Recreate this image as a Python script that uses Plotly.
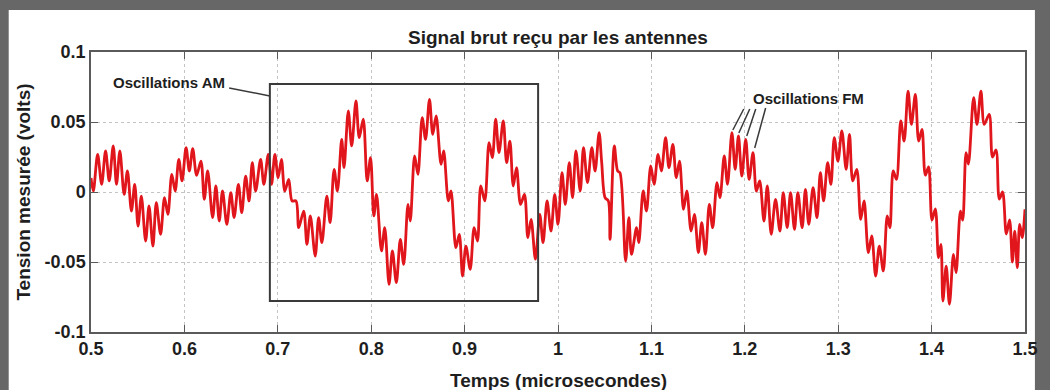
import plotly.graph_objects as go

# Raw antenna signal: time (µs) and measured voltage (V)
t_us = [
    0.5000, 0.5025, 0.5071, 0.5114, 0.5156, 0.5195, 0.5238, 0.5273, 0.5309, 0.5355,
    0.5390, 0.5433, 0.5468, 0.5504, 0.5539, 0.5585, 0.5621, 0.5663, 0.5699, 0.5745,
    0.5787, 0.5823, 0.5865, 0.5901, 0.5940, 0.5975, 0.6018, 0.6053, 0.6089, 0.6131,
    0.6177, 0.6213, 0.6249, 0.6302, 0.6337, 0.6373, 0.6408, 0.6454, 0.6497, 0.6532,
    0.6578, 0.6614, 0.6656, 0.6692, 0.6727, 0.6763, 0.6816, 0.6851, 0.6898, 0.6933,
    0.6969, 0.7004, 0.7039, 0.7075, 0.7117, 0.7153, 0.7195, 0.7224, 0.7277, 0.7312,
    0.7348, 0.7401, 0.7437, 0.7472, 0.7525, 0.7560, 0.7603, 0.7638, 0.7684, 0.7709,
    0.7755, 0.7791, 0.7837, 0.7872, 0.7915, 0.7957, 0.7993, 0.8028, 0.8057, 0.8110,
    0.8145, 0.8191, 0.8227, 0.8269, 0.8312, 0.8348, 0.8394, 0.8418, 0.8465, 0.8500,
    0.8546, 0.8582, 0.8624, 0.8659, 0.8695, 0.8748, 0.8776, 0.8826, 0.8854, 0.8907,
    0.8943, 0.8978, 0.9014, 0.9060, 0.9102, 0.9138, 0.9173, 0.9216, 0.9262, 0.9297,
    0.9333, 0.9368, 0.9414, 0.9450, 0.9485, 0.9521, 0.9556, 0.9599, 0.9641, 0.9677,
    0.9712, 0.9758, 0.9805, 0.9840, 0.9883, 0.9925, 0.9965, 1.0000, 1.0043, 1.0078,
    1.0121, 1.0156, 1.0192, 1.0238, 1.0273, 1.0316, 1.0362, 1.0397, 1.0440, 1.0468,
    1.0504, 1.0539, 1.0557, 1.0603, 1.0639, 1.0663, 1.0724, 1.0759, 1.0787, 1.0841,
    1.0865, 1.0912, 1.0947, 1.0993, 1.1029, 1.1071, 1.1107, 1.1152, 1.1188, 1.1230,
    1.1266, 1.1301, 1.1344, 1.1379, 1.1425, 1.1461, 1.1503, 1.1539, 1.1578, 1.1620,
    1.1656, 1.1702, 1.1734, 1.1780, 1.1815, 1.1862, 1.1897, 1.1932, 1.1968, 1.2010,
    1.2046, 1.2088, 1.2124, 1.2159, 1.2205, 1.2241, 1.2283, 1.2329, 1.2376, 1.2412,
    1.2454, 1.2490, 1.2532, 1.2568, 1.2614, 1.2649, 1.2685, 1.2731, 1.2773, 1.2809,
    1.2844, 1.2887, 1.2922, 1.2958, 1.2997, 1.3039, 1.3085, 1.3121, 1.3156, 1.3199,
    1.3241, 1.3277, 1.3323, 1.3359, 1.3401, 1.3440, 1.3483, 1.3525, 1.3554, 1.3589,
    1.3624, 1.3670, 1.3706, 1.3748, 1.3784, 1.3826, 1.3862, 1.3897, 1.3933, 1.3968,
    1.4004, 1.4040, 1.4074, 1.4100, 1.4121, 1.4156, 1.4191, 1.4234, 1.4262, 1.4309,
    1.4333, 1.4369, 1.4394, 1.4450, 1.4486, 1.4528, 1.4564, 1.4617, 1.4652, 1.4690,
    1.4725, 1.4760, 1.4800, 1.4835, 1.4865, 1.4890, 1.4918, 1.4943, 1.4970, 1.5000,
]
v_volts = [
    0.0100, 0.0007, 0.0269, 0.0055, 0.0293, 0.0079, 0.0329, 0.0055, 0.0293, -0.0017,
    0.0150, -0.0136, 0.0055, -0.0243, -0.0029, -0.0350, -0.0100, -0.0386, -0.0076, -0.0302,
    -0.0040, -0.0160, 0.0126, 0.0007, 0.0233, 0.0079, 0.0317, 0.0150, 0.0310, 0.0119,
    0.0221, -0.0052, 0.0150, -0.0183, 0.0043, -0.0207, 0.0007, -0.0231, -0.0005, -0.0183,
    0.0055, -0.0148, 0.0114, -0.0064, 0.0210, 0.0007, 0.0233, 0.0055, 0.0269, 0.0055,
    0.0269, 0.0102, 0.0233, 0.0007, 0.0090, -0.0064, -0.0064, -0.0255, -0.0136, -0.0374,
    -0.0171, -0.0457, -0.0183, -0.0362, -0.0029, -0.0219, 0.0162, 0.0007, 0.0376, 0.0174,
    0.0579, 0.0329, 0.0650, 0.0388, 0.0520, 0.0079, 0.0245, -0.0171, -0.0017, -0.0421,
    -0.0255, -0.0660, -0.0421, -0.0648, -0.0338, -0.0517, -0.0088, -0.0207, 0.0257, 0.0126,
    0.0531, 0.0376, 0.0662, 0.0412, 0.0543, 0.0198, 0.0293, -0.0064, 0.0007, -0.0398,
    -0.0302, -0.0600, -0.0386, -0.0552, -0.0255, -0.0350, 0.0043, -0.0064, 0.0352, 0.0245,
    0.0520, 0.0281, 0.0507, 0.0210, 0.0364, 0.0043, 0.0174, -0.0088, -0.0017, -0.0326,
    -0.0195, -0.0480, -0.0160, -0.0362, -0.0064, -0.0279, -0.0017, -0.0231, 0.0138, -0.0088,
    0.0210, -0.0040, 0.0293, 0.0007, 0.0317, 0.0067, 0.0317, 0.0150, 0.0424, 0.0210,
    -0.0040, -0.0064, -0.0338, 0.0329, 0.0150, 0.0138, -0.0493, -0.0183, -0.0445, -0.0255,
    -0.0362, 0.0007, -0.0136, 0.0186, 0.0055, 0.0269, 0.0150, 0.0388, 0.0174, 0.0340,
    0.0102, 0.0221, -0.0124, 0.0007, -0.0279, -0.0160, -0.0433, -0.0219, -0.0445, -0.0088,
    -0.0255, 0.0067, -0.0040, 0.0257, 0.0055, 0.0424, 0.0162, 0.0400, 0.0114, 0.0376,
    0.0090, 0.0281, 0.0007, 0.0079, -0.0207, 0.0043, -0.0302, -0.0052, -0.0279, -0.0005,
    -0.0255, -0.0005, -0.0267, -0.0005, -0.0255, 0.0019, -0.0231, 0.0031, -0.0183, 0.0138,
    -0.0064, 0.0210, 0.0055, 0.0388, 0.0221, 0.0436, 0.0162, 0.0412, 0.0079, 0.0162,
    -0.0195, -0.0064, -0.0433, -0.0314, -0.0600, -0.0386, -0.0564, -0.0171, -0.0255, 0.0150,
    0.0090, 0.0507, 0.0364, 0.0721, 0.0483, 0.0698, 0.0364, 0.0448, 0.0120, 0.0180,
    -0.0200, -0.0120, -0.0469, -0.0374, -0.0779, -0.0529, -0.0802, -0.0445, -0.0576, -0.0136,
    -0.0200, 0.0281, 0.0200, 0.0674, 0.0483, 0.0721, 0.0483, 0.0555, 0.0250, 0.0300,
    -0.0050, 0.0000, -0.0300, -0.0200, -0.0500, -0.0280, -0.0540, -0.0231, -0.0326, -0.0124,
]

x_tick_vals = [0.5, 0.6, 0.7, 0.8, 0.9, 1.0, 1.1, 1.2, 1.3, 1.4, 1.5]
x_tick_text = ["0.5", "0.6", "0.7", "0.8", "0.9", "1", "1.1", "1.2", "1.3", "1.4", "1.5"]
y_tick_vals = [-0.1, -0.05, 0, 0.05, 0.1]
y_tick_text = ["-0.1", "-0.05", "0", "0.05", "0.1"]

# Window highlighting the amplitude-modulated section
am_box = dict(t0=0.6915, t1=0.9787, v0=-0.0779, v1=0.0771)

FONT = "Liberation Sans, Arial, sans-serif"
INK = "#1e1e1e"
FRAME = "#3a3a3a"

fig = go.Figure()
fig.add_trace(go.Scatter(
    x=t_us, y=v_volts, mode="lines",
    line=dict(color="#e0161c", width=2.8, shape="spline", smoothing=0.9),
    hoverinfo="skip", showlegend=False,
))

W, H = 1050, 390
ML, MR, MT, MB = 91, 17, 52, 58
pw, ph = W - ML - MR, H - MT - MB


def px_to_paper(px, py):
    return (px - ML) / pw, (H - MB - py) / ph


# light panel sitting on the dark outer frame
px0, py0 = px_to_paper(8, 390)
px1, py1 = px_to_paper(1043, 10)
# axis title anchors
ytitle_x, _ = px_to_paper(22, 0)
_, xtitle_y = px_to_paper(0, 380)

shapes = [
    dict(type="rect", xref="paper", yref="paper", x0=px0, x1=px1, y0=py0, y1=py1,
         fillcolor="white", line=dict(width=0), layer="below"),
    dict(type="rect", xref="x", yref="y",
         x0=am_box["t0"], x1=am_box["t1"], y0=am_box["v0"], y1=am_box["v1"],
         line=dict(color=FRAME, width=2), fillcolor="rgba(0,0,0,0)", layer="above"),
    # leader from the AM label to the box
    dict(type="line", xref="x", yref="y", x0=0.6479, y0=0.0743, x1=0.6915, y1=0.0686,
         line=dict(color=FRAME, width=1.5)),
]

# leaders from the FM label to the fast ripples
fm_leaders = [
    (1.1989, 0.0593, 1.1872, 0.0443),
    (1.2053, 0.0593, 1.1936, 0.0421),
    (1.2117, 0.0593, 1.2021, 0.0400),
    (1.2223, 0.0600, 1.2106, 0.0314),
]
for a, b, c, d in fm_leaders:
    shapes.append(dict(type="line", xref="x", yref="y", x0=a, y0=b, x1=c, y1=d,
                       line=dict(color=FRAME, width=1.5)))

title_font = dict(family=FONT, size=19, color=INK, weight="bold")
annotations = [
    dict(x=0.583, y=0.078, xref="x", yref="y", text="Oscillations AM", showarrow=False,
         font=dict(family=FONT, size=15, color=INK, weight="bold")),
    dict(x=1.2685, y=0.0671, xref="x", yref="y", text="Oscillations FM", showarrow=False,
         font=dict(family=FONT, size=15, color=INK, weight="bold")),
    dict(x=ytitle_x, y=0.5, xref="paper", yref="paper", text="Tension mesurée (volts)",
         textangle=-90, showarrow=False, xanchor="center", yanchor="middle",
         font=title_font),
    dict(x=0.5, y=xtitle_y, xref="paper", yref="paper", text="Temps (microsecondes)",
         showarrow=False, xanchor="center", yanchor="middle", font=title_font),
]

axis_common = dict(
    showline=True, linecolor="#5a5a5a", linewidth=1.5, mirror="ticks",
    ticks="inside", ticklen=7, tickcolor="#5a5a5a", tickwidth=1.2,
    showgrid=True, gridcolor="#c4c4c4", griddash="dot", gridwidth=1,
    zeroline=False,
    tickfont=dict(family=FONT, size=18, color=INK, weight="bold"),
)

fig.update_layout(
    width=W, height=H, autosize=False,
    margin=dict(l=ML, r=MR, t=MT, b=MB, pad=0),
    paper_bgcolor="#676767", plot_bgcolor="white",
    title=dict(text="Signal brut reçu par les antennes", x=0.5, xref="paper",
               y=1 - 37 / H, yref="container", yanchor="middle", xanchor="center",
               font=title_font),
    xaxis=dict(range=[0.5, 1.5], tickvals=x_tick_vals, ticktext=x_tick_text,
               **axis_common),
    yaxis=dict(range=[-0.1, 0.1], tickvals=y_tick_vals, ticktext=y_tick_text,
               **axis_common),
    shapes=shapes, annotations=annotations,
)

fig.write_html("out.html", config={"displayModeBar": False})
